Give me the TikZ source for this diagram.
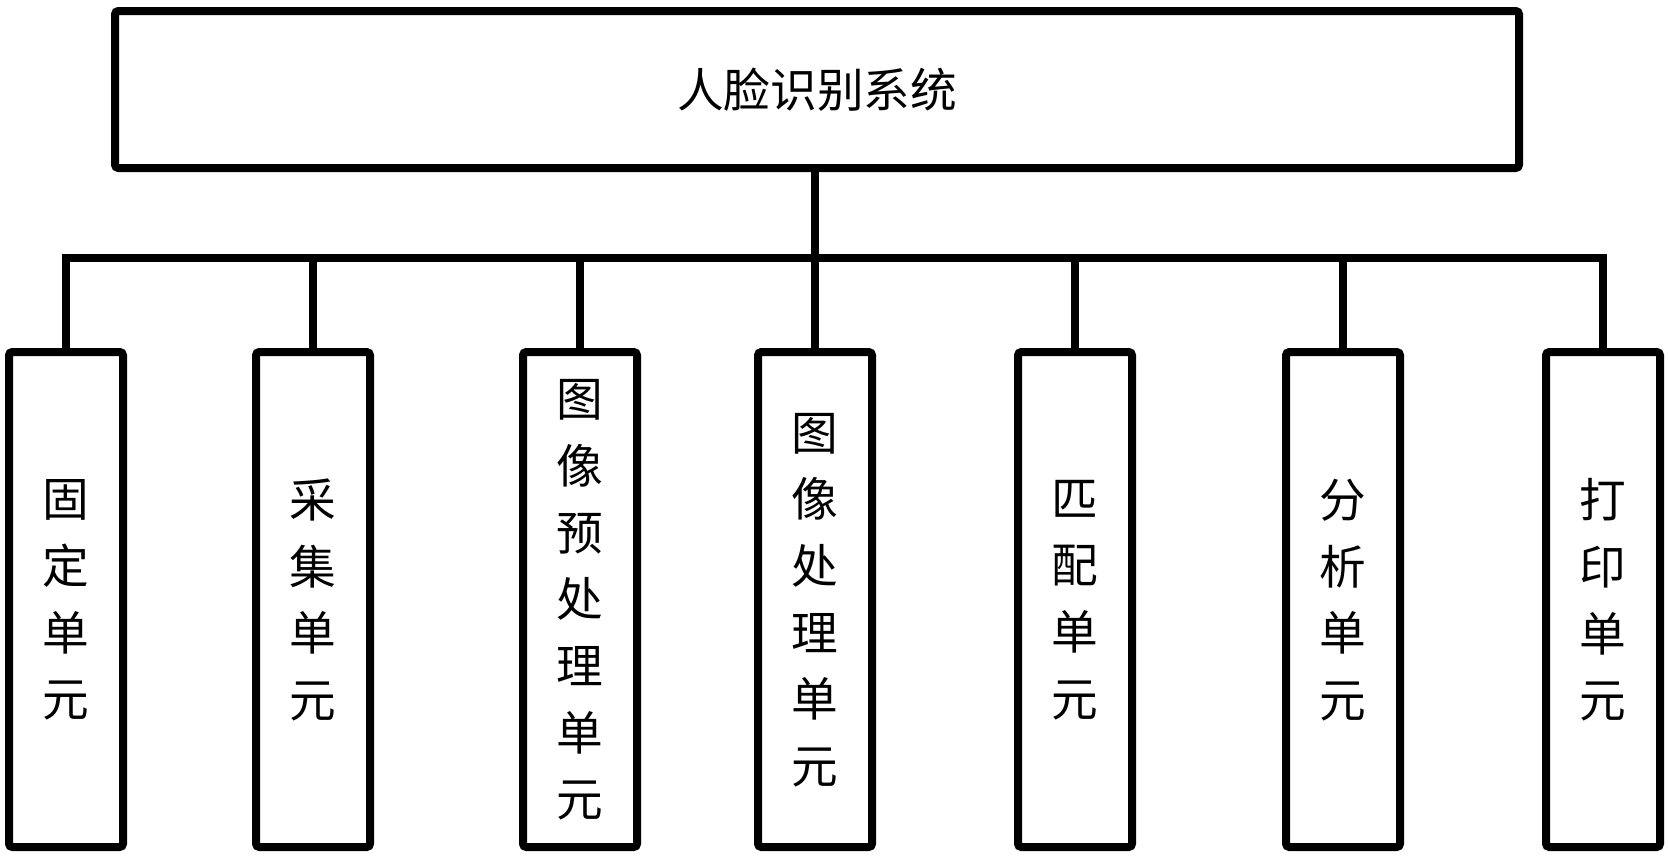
\documentclass[tikz,border=0pt]{standalone}
\usepackage{fontspec}
\newfontfamily\cjk{Noto Sans CJK SC}
\begin{document}
\begin{tikzpicture}[x=0.6pt,y=-0.6pt,line width=4.8pt,
  box/.style={draw,rounded corners=2pt,inner sep=0pt},
  lbl/.style={font=\cjk\fontsize{28}{40}\selectfont,align=center}]
\useasboundingbox (0,0) rectangle (1668,859);
\draw[box] (115,11) rectangle (1519,168);
\node[lbl] (top) at (817,90) {人脸识别系统};
\coordinate (t) at (815,168);
\coordinate (bus) at (815,258);
\draw (t) -- (bus);
\draw[line cap=rect] (66,258) -- (1603,258);
\foreach \x/\n/\t in {66/a/固\\定\\单\\元,313/b/采\\集\\单\\元,580/c/图\\像\\预\\处\\理\\单\\元,815/d/图\\像\\处\\理\\单\\元,1075/e/匹\\配\\单\\元,1343/f/分\\析\\单\\元,1603/g/打\\印\\单\\元}{
  \draw[box] (\x-57,352) rectangle (\x+57,847);
  \node[lbl] (\n) at (\x,600) {\t};
  \coordinate (\n top) at (\x,352);
  \draw (\x,258) -- (\n top);
}
\end{tikzpicture}
\end{document}
